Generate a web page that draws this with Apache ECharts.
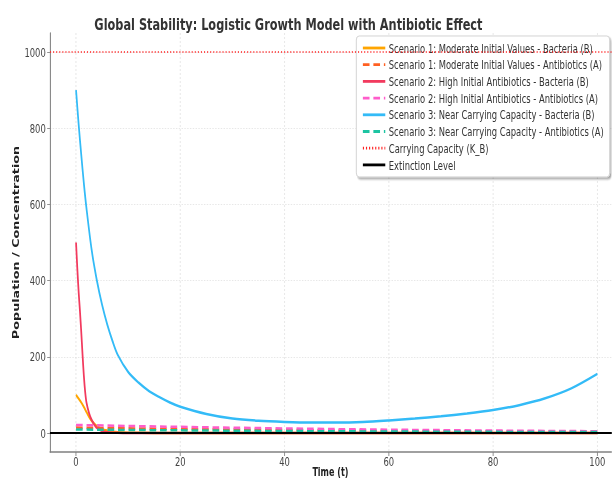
<!DOCTYPE html>
<html><head><meta charset="utf-8">
<script src="https://cdn.jsdelivr.net/npm/echarts@6/dist/echarts.min.js"></script>
<style>
html,body{margin:0;padding:0;overflow:hidden;background:#fff;width:612px;height:480px}
#chart{width:874px;height:480px;transform:scaleX(0.7);transform-origin:0 0;}
</style>
</head><body><div id="chart"></div>
<script>
const xTicks = [0, 20, 40, 60, 80, 100];
const yTicks = [0, 200, 400, 600, 800, 1000];

const s1BacteriaT = [0, 0.5, 1, 1.5, 2, 2.5, 3, 3.5, 4, 5, 6, 7, 8, 10, 15, 20, 40, 60, 80, 100];
const s1BacteriaV = [100, 90, 80, 68, 55, 42, 32, 24, 18, 10, 6, 3.5, 2, 0.6, 0.1, 0, 0, 0, 0, 0];

const s2BacteriaT = [0, 0.25, 0.5, 0.75, 1, 1.25, 1.5, 1.75, 2, 2.5, 3, 3.5, 4, 5, 6, 8, 10, 20, 40, 60, 80, 100];
const s2BacteriaV = [500, 430, 370, 320, 265, 205, 150, 108, 80, 52, 34, 22, 13, 5, 2, 0.5, 0, 0, 0, 0, 0, 0];

const s3BacteriaT = [0, 0.5, 1, 1.5, 2, 3, 4, 5, 6, 7, 8, 10, 12, 14, 16, 18, 20, 25, 30, 35, 40, 45, 50, 55, 60, 65, 70, 75, 80, 85, 90, 95, 100];
const s3BacteriaV = [900, 810, 730, 655, 590, 480, 400, 336, 284, 241, 205, 160, 132, 110, 94, 80, 69, 50, 38, 32, 29, 27.5, 27.5, 29, 33, 38, 44, 51, 60, 73, 91, 117, 155];

const antibioticsT = [0, 10, 20, 30, 40, 50, 60, 70, 80, 90, 100];
const s1AntibioticsV = [14, 12.2, 10.5, 9, 7.8, 6.7, 5.8, 5, 4.3, 3.7, 3.2];
const s2AntibioticsV = [21, 18.3, 16, 13.8, 11.8, 10.1, 8.6, 7.4, 6.3, 5.4, 4.6];
const s3AntibioticsV = [9, 7.8, 6.8, 5.9, 5.1, 4.4, 3.8, 3.3, 2.9, 2.5, 2.2];

const carryingCapacity = 1000;
const extinctionLevel = 0;
const xRange = [-5, 105];
const yRange = [-50, 1050];

const names = [
  'Scenario 1: Moderate Initial Values - Bacteria (B)',
  'Scenario 1: Moderate Initial Values - Antibiotics (A)',
  'Scenario 2: High Initial Antibiotics - Bacteria (B)',
  'Scenario 2: High Initial Antibiotics - Antibiotics (A)',
  'Scenario 3: Near Carrying Capacity - Bacteria (B)',
  'Scenario 3: Near Carrying Capacity - Antibiotics (A)',
  'Carrying Capacity (K_B)',
  'Extinction Level'
];

const zip = (t, v) => t.map((x, i) => [x, v[i]]);
const FONT = 'DejaVu Sans';
const dash = [9.5, 5.5];

function line(name, data, color, type, width, z, smooth) {
  return {
    name, type: 'line', data, showSymbol: false, symbol: 'none',
    smooth: smooth || false,
    lineStyle: {color, width, type}, itemStyle: {color}, z: z, animation: false
  };
}

const series = [
  line(names[0], zip(s1BacteriaT, s1BacteriaV), '#FFA500', 'solid', 2.5, 2, 0.3),
  line(names[1], zip(antibioticsT, s1AntibioticsV), '#FF6022', dash, 2.5, 3),
  line(names[2], zip(s2BacteriaT, s2BacteriaV), '#F23A5E', 'solid', 2.5, 4, 0.3),
  line(names[3], zip(antibioticsT, s2AntibioticsV), '#FF5CCB', dash, 2.5, 5),
  line(names[4], zip(s3BacteriaT, s3BacteriaV), '#33BBF7', 'solid', 2.5, 6, 0.3),
  line(names[5], zip(antibioticsT, s3AntibioticsV), '#1DC4A2', dash, 2.5, 7),
  line(names[6], xRange.map(x => [x, carryingCapacity]), '#FF2020', [1.6, 2.8], 1.6, 8),
  line(names[7], xRange.map(x => [x, extinctionLevel]), '#000000', 'solid', 2, 9)
];

const chart = echarts.init(document.getElementById('chart'), null, {renderer: 'svg'});
chart.setOption({
  animation: false,
  backgroundColor: '#fff',
  title: {
    text: 'Global Stability: Logistic Growth Model with Antibiotic Effect',
    left: 407, top: 11, textAlign: 'center',
    textStyle: {fontFamily: FONT, fontSize: 16.2, fontWeight: 'bold', color: '#333'}
  },
  grid: {left: 71.4, right: -16.6, top: 33, bottom: 28, containLabel: false, outerBoundsMode: 'none'},
  legend: {
    orient: 'vertical', left: 509, top: 36,
    padding: [5, 8, 5, 8],
    itemWidth: 32, itemHeight: 14, itemGap: 2.7, itemTextGap: 7,
    backgroundColor: '#fff', borderColor: '#cccccc', borderWidth: 1, borderRadius: 4,
    shadowColor: 'rgba(0,0,0,0.35)', shadowBlur: 2, shadowOffsetX: 2, shadowOffsetY: 2,
    itemStyle: {opacity: 0, borderWidth: 0},
    lineStyle: {width: 2.8},
    textStyle: {fontFamily: FONT, fontSize: 12, color: '#333', lineHeight: 14},
    data: names
  },
  xAxis: {
    type: 'value', min: xRange[0], max: xRange[1],
    name: 'Time (t)', nameLocation: 'middle', nameGap: 14, nameMoveOverlap: false,
    nameTextStyle: {fontFamily: FONT, fontSize: 11.5, fontWeight: 'bold', color: '#222', padding: [0, 18, 0, 0]},
    axisLine: {show: true, onZero: false, lineStyle: {color: '#808080', width: 1.5}},
    axisTick: {show: true, length: 4, customValues: xTicks, lineStyle: {color: '#808080'}},
    axisLabel: {customValues: xTicks, margin: 3, fontFamily: FONT, fontSize: 12, color: '#444', formatter: v => String(v)},
    splitLine: {show: true, lineStyle: {color: '#dcdcdc', type: [2, 2], width: 0.8}}
  },
  yAxis: {
    type: 'value', min: yRange[0], max: yRange[1],
    name: 'Population / Concentration', nameLocation: 'middle', nameGap: 42, nameRotate: 90, nameMoveOverlap: false,
    nameTextStyle: {fontFamily: FONT, fontSize: 12.8, fontWeight: 'bold', color: '#222'},
    axisLine: {show: true, onZero: false, lineStyle: {color: '#808080', width: 1.5}},
    axisTick: {show: true, length: 4, customValues: yTicks, lineStyle: {color: '#808080'}},
    axisLabel: {customValues: yTicks, margin: 6, fontFamily: FONT, fontSize: 12, color: '#444', formatter: v => String(v)},
    splitLine: {show: true, lineStyle: {color: '#dcdcdc', type: [2, 2], width: 0.8}}
  },
  series
});
</script></body></html>
